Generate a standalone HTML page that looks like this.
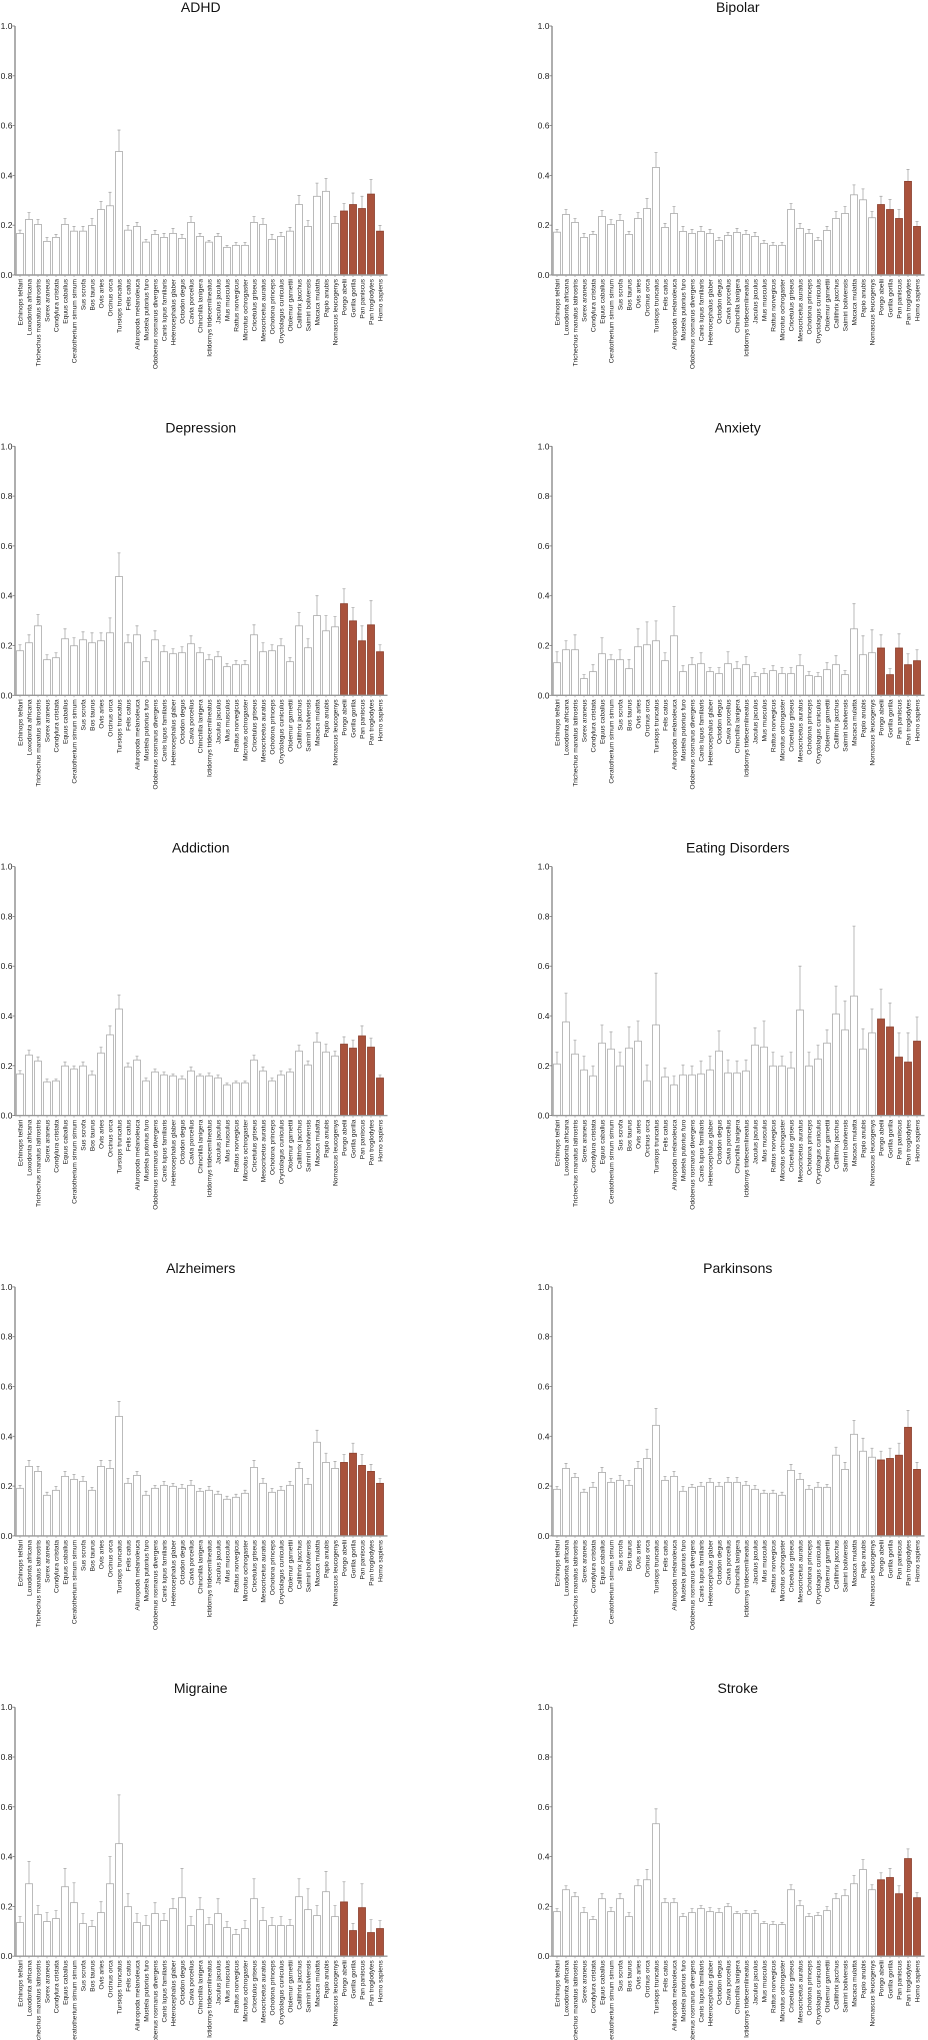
<!DOCTYPE html>
<html><head><meta charset="utf-8"><title>Disease panels</title>
<style>
html,body{margin:0;padding:0;background:#fff;}
svg{display:block;font-family:"Liberation Sans",Arial,sans-serif;}
</style></head>
<body>
<svg id="chart" width="928" height="2040" viewBox="0 0 928 2040" xmlns="http://www.w3.org/2000/svg"></svg>
<script>
const species = ["Echinops telfairi","Loxodonta africana","Trichechus manatus latirostris","Sorex araneus","Condylura cristata","Equus caballus","Ceratotherium simum simum","Sus scrofa","Bos taurus","Ovis aries","Orcinus orca","Tursiops truncatus","Felis catus","Ailuropoda melanoleuca","Mustela putorius furo","Odobenus rosmarus divergens","Canis lupus familiaris","Heterocephalus glaber","Octodon degus","Cavia porcellus","Chinchilla lanigera","Ictidomys tridecemlineatus","Jaculus jaculus","Mus musculus","Rattus norvegicus","Microtus ochrogaster","Cricetulus griseus","Mesocricetus auratus","Ochotona princeps","Oryctolagus cuniculus","Otolemur garnettii","Callithrix jacchus","Saimiri boliviensis","Macaca mulatta","Papio anubis","Nomascus leucogenys","Pongo abelii","Gorilla gorilla","Pan paniscus","Pan troglodytes","Homo sapiens"];
const highlighted = ["Pongo abelii","Gorilla gorilla","Pan paniscus","Pan troglodytes","Homo sapiens"];
const titles = ["ADHD","Bipolar","Depression","Anxiety","Addiction","Eating Disorders","Alzheimers","Parkinsons","Migraine","Stroke"];
const yTicks = [0.0,0.2,0.4,0.6,0.8,1.0];
const yTickLabels = ["0.0","0.2","0.4","0.6","0.8","1.0"];

const adhdMean = [0.167,0.223,0.203,0.135,0.151,0.203,0.176,0.176,0.199,0.263,0.278,0.496,0.18,0.195,0.132,0.163,0.151,0.167,0.147,0.211,0.155,0.132,0.155,0.111,0.119,0.119,0.211,0.203,0.143,0.155,0.176,0.283,0.195,0.316,0.336,0.207,0.257,0.283,0.267,0.325,0.176];
const adhdUpper = [0.18,0.251,0.223,0.151,0.163,0.227,0.195,0.195,0.227,0.295,0.332,0.582,0.199,0.211,0.143,0.179,0.167,0.187,0.163,0.235,0.167,0.139,0.167,0.119,0.131,0.131,0.235,0.227,0.163,0.171,0.191,0.319,0.219,0.369,0.388,0.235,0.287,0.329,0.316,0.384,0.199];
const bipolarMean = [0.172,0.243,0.211,0.151,0.163,0.235,0.203,0.219,0.163,0.227,0.267,0.432,0.191,0.247,0.175,0.167,0.175,0.167,0.139,0.159,0.171,0.163,0.155,0.127,0.119,0.119,0.263,0.187,0.167,0.139,0.179,0.227,0.247,0.322,0.302,0.23,0.283,0.263,0.227,0.376,0.195];
const bipolarUpper = [0.183,0.263,0.227,0.167,0.175,0.259,0.223,0.243,0.175,0.251,0.307,0.492,0.207,0.275,0.195,0.183,0.195,0.183,0.151,0.171,0.187,0.179,0.171,0.139,0.131,0.131,0.287,0.207,0.183,0.151,0.195,0.255,0.275,0.362,0.346,0.255,0.316,0.303,0.263,0.424,0.215];
const depressionMean = [0.179,0.211,0.279,0.143,0.151,0.227,0.199,0.223,0.211,0.219,0.251,0.477,0.211,0.243,0.135,0.223,0.175,0.167,0.171,0.207,0.171,0.143,0.155,0.115,0.123,0.123,0.243,0.175,0.179,0.199,0.135,0.279,0.191,0.32,0.259,0.275,0.368,0.299,0.219,0.283,0.175];
const depressionUpper = [0.203,0.243,0.324,0.163,0.171,0.267,0.231,0.255,0.251,0.251,0.311,0.572,0.243,0.279,0.151,0.259,0.199,0.187,0.195,0.239,0.191,0.163,0.175,0.127,0.139,0.139,0.283,0.211,0.203,0.227,0.151,0.332,0.227,0.40,0.32,0.316,0.428,0.352,0.279,0.38,0.203];
const anxietyMean = [0.131,0.183,0.183,0.067,0.095,0.167,0.143,0.143,0.107,0.195,0.203,0.219,0.139,0.239,0.095,0.123,0.127,0.095,0.087,0.127,0.107,0.123,0.075,0.087,0.099,0.087,0.087,0.119,0.079,0.075,0.103,0.123,0.083,0.267,0.163,0.171,0.19,0.083,0.19,0.123,0.139];
const anxietyUpper = [0.175,0.219,0.243,0.083,0.123,0.231,0.163,0.183,0.143,0.267,0.295,0.299,0.171,0.356,0.119,0.151,0.171,0.111,0.111,0.175,0.135,0.155,0.091,0.107,0.119,0.111,0.111,0.163,0.095,0.091,0.131,0.159,0.099,0.368,0.239,0.263,0.243,0.107,0.247,0.167,0.183];
const addictionMean = [0.167,0.243,0.219,0.135,0.139,0.199,0.187,0.199,0.163,0.251,0.324,0.428,0.195,0.223,0.139,0.175,0.163,0.159,0.147,0.179,0.159,0.159,0.151,0.123,0.131,0.131,0.223,0.179,0.139,0.163,0.175,0.259,0.203,0.295,0.255,0.239,0.287,0.271,0.32,0.275,0.151];
const addictionUpper = [0.18,0.263,0.235,0.147,0.147,0.215,0.199,0.215,0.179,0.275,0.36,0.484,0.211,0.239,0.151,0.187,0.175,0.167,0.159,0.195,0.167,0.171,0.163,0.131,0.139,0.139,0.243,0.195,0.151,0.179,0.187,0.283,0.219,0.332,0.287,0.259,0.316,0.303,0.36,0.311,0.163];
const eatingMean = [0.207,0.376,0.247,0.183,0.159,0.291,0.267,0.199,0.271,0.299,0.139,0.364,0.155,0.123,0.163,0.163,0.167,0.183,0.259,0.171,0.171,0.179,0.283,0.275,0.199,0.199,0.191,0.424,0.199,0.227,0.291,0.408,0.344,0.48,0.267,0.332,0.388,0.356,0.235,0.215,0.299];
const eatingUpper = [0.255,0.492,0.303,0.239,0.199,0.364,0.336,0.255,0.356,0.38,0.203,0.572,0.191,0.159,0.203,0.199,0.219,0.239,0.34,0.223,0.219,0.223,0.352,0.38,0.255,0.239,0.255,0.60,0.255,0.283,0.344,0.52,0.46,0.761,0.348,0.428,0.508,0.452,0.332,0.332,0.396];
const alzheimersMean = [0.191,0.279,0.259,0.163,0.183,0.239,0.227,0.219,0.183,0.279,0.271,0.48,0.211,0.243,0.163,0.191,0.203,0.199,0.191,0.203,0.179,0.183,0.167,0.147,0.155,0.171,0.275,0.211,0.175,0.183,0.203,0.271,0.207,0.376,0.295,0.271,0.295,0.332,0.283,0.259,0.211];
const alzheimersUpper = [0.203,0.303,0.279,0.175,0.199,0.259,0.247,0.239,0.195,0.303,0.303,0.54,0.231,0.259,0.179,0.203,0.219,0.211,0.207,0.223,0.191,0.199,0.179,0.159,0.167,0.183,0.303,0.231,0.191,0.199,0.219,0.295,0.231,0.424,0.332,0.299,0.327,0.372,0.327,0.287,0.231];
const parkinsonsMean = [0.187,0.271,0.235,0.175,0.195,0.255,0.215,0.223,0.203,0.271,0.311,0.444,0.223,0.239,0.179,0.195,0.199,0.215,0.199,0.215,0.215,0.203,0.187,0.171,0.171,0.163,0.263,0.227,0.187,0.195,0.195,0.324,0.267,0.408,0.34,0.316,0.305,0.311,0.324,0.436,0.267];
const parkinsonsUpper = [0.199,0.291,0.251,0.187,0.215,0.275,0.231,0.243,0.223,0.299,0.348,0.512,0.239,0.259,0.199,0.207,0.215,0.231,0.215,0.235,0.235,0.219,0.203,0.183,0.183,0.175,0.287,0.251,0.203,0.215,0.207,0.356,0.295,0.464,0.392,0.352,0.34,0.352,0.372,0.504,0.295];
const migraineMean = [0.135,0.291,0.167,0.139,0.151,0.279,0.215,0.131,0.119,0.175,0.291,0.452,0.199,0.135,0.123,0.171,0.143,0.191,0.235,0.123,0.187,0.127,0.171,0.115,0.087,0.111,0.231,0.143,0.123,0.123,0.123,0.239,0.187,0.163,0.259,0.159,0.218,0.103,0.195,0.095,0.111];
const migraineUpper = [0.159,0.38,0.203,0.175,0.183,0.352,0.295,0.171,0.143,0.219,0.40,0.648,0.251,0.171,0.163,0.215,0.171,0.231,0.352,0.159,0.235,0.155,0.231,0.139,0.107,0.143,0.311,0.195,0.155,0.159,0.147,0.311,0.271,0.203,0.34,0.203,0.299,0.131,0.291,0.147,0.143];
const strokeMean = [0.179,0.267,0.239,0.175,0.147,0.231,0.179,0.231,0.159,0.283,0.307,0.532,0.215,0.215,0.159,0.175,0.191,0.179,0.175,0.199,0.171,0.171,0.171,0.131,0.127,0.127,0.267,0.203,0.159,0.163,0.183,0.231,0.243,0.291,0.348,0.267,0.307,0.316,0.251,0.392,0.235];
const strokeUpper = [0.191,0.283,0.255,0.195,0.159,0.251,0.195,0.251,0.175,0.307,0.348,0.592,0.231,0.231,0.171,0.191,0.203,0.195,0.191,0.211,0.179,0.183,0.183,0.139,0.139,0.135,0.287,0.223,0.171,0.175,0.199,0.251,0.267,0.324,0.388,0.287,0.335,0.352,0.283,0.431,0.255];

const panelMeans = [adhdMean,bipolarMean,depressionMean,anxietyMean,addictionMean,eatingMean,alzheimersMean,parkinsonsMean,migraineMean,strokeMean];
const panelUppers = [adhdUpper,bipolarUpper,depressionUpper,anxietyUpper,addictionUpper,eatingUpper,alzheimersUpper,parkinsonsUpper,migraineUpper,strokeUpper];

const NS = "http://www.w3.org/2000/svg";
const svg = document.getElementById("chart");
function mk(tag, attrs, parent){
  const e = document.createElementNS(NS, tag);
  for (const k in attrs) e.setAttribute(k, attrs[k]);
  parent.appendChild(e);
  return e;
}
const PITCH = 9, BARW = 7, PLOT_H = 249;
titles.forEach((title, p) => {
  const col = p % 2, row = Math.floor(p / 2);
  const axisX = col === 0 ? 15 : 552;
  const top = 26 + row * 420.3;
  const base = top + PLOT_H;
  const yScale = v => base - v * PLOT_H;
  const xScale = i => axisX + 1.5 + i * PITCH;
  const g = mk("g", {}, svg);
  
  
  const plotRight = axisX + 1.5 + species.length * PITCH + 1;
  const t = mk("text", {x: (axisX + plotRight) / 2, y: top - 14, "text-anchor": "middle", "font-size": 14, fill: "#111"}, g);
  t.textContent = title;
  
  
  const ya = mk("line", {x1: axisX, y1: top, x2: axisX, y2: base, stroke: "#999", "stroke-width": 1.6}, g);
  
  
  yTicks.forEach((v, k) => {
    mk("line", {x1: axisX - 2.5, y1: yScale(v), x2: axisX, y2: yScale(v), stroke: "#777", "stroke-width": 0.8}, g);
    const tl = mk("text", {x: axisX - 2.5, y: yScale(v) + 3, "text-anchor": "end", "font-size": 8.5, fill: "#222"}, g);
    tl.textContent = yTickLabels[k];
    
    
  });
  const means = panelMeans[p], uppers = panelUppers[p];
  species.forEach((sp, i) => {
    const hi = highlighted.includes(sp);
    const x = xScale(i);
    const cx = x + BARW / 2;
    const eb = mk("path", {d: `M${cx} ${yScale(means[i])}V${yScale(uppers[i])}M${cx-1.5} ${yScale(uppers[i])}H${cx+1.5}`, stroke: "#aaa", "stroke-width": 0.8, fill: "none"}, g);
    
    
    const b = mk("rect", {x: x, y: yScale(means[i]), width: BARW, height: base - yScale(means[i]), fill: hi ? "#a9523c" : "#fff", stroke: hi ? "#8a3f2d" : "#aaa", "stroke-width": 0.8}, g);
    
    
    mk("line", {x1: cx, y1: base, x2: cx, y2: base + 2, stroke: "#999", "stroke-width": 0.7}, g);
    const lb = mk("text", {transform: `translate(${cx + 2.3},${base + 4}) rotate(-90)`, "text-anchor": "end", "font-size": 6.6, fill: "#222"}, g);
    lb.textContent = sp;
    
    
  });
  const xa = mk("line", {x1: axisX, y1: base, x2: plotRight + 1, y2: base, stroke: "#999", "stroke-width": 1.4}, g);
  
  
});
</script>
</body></html>
